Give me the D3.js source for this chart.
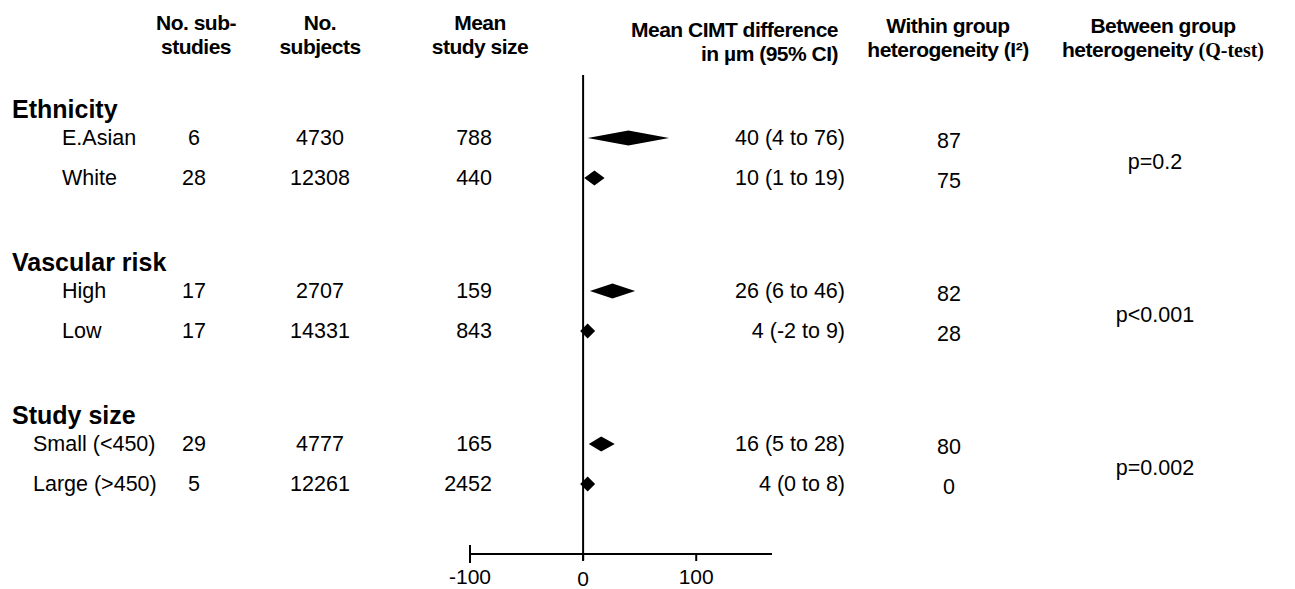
<!DOCTYPE html>
<html>
<head>
<meta charset="utf-8">
<script src="https://cdn.jsdelivr.net/npm/d3@7"></script>
<style>
  body { margin: 0; background: #fff; }
  svg { display: block; font-family: "Liberation Sans", Arial, sans-serif; }
  .hdr { font-weight: bold; font-size: 21px; letter-spacing: -0.5px; }
  .grp { font-weight: bold; font-size: 25px; }
  .cell { font-size: 21.5px; }
</style>
</head>
<body>
<div id="chart"></div>
<script>
// -------------------------------
// Data
// -------------------------------
const groups = ["Ethnicity", "Vascular risk", "Study size"];
const subgroups = ["E.Asian", "White", "High", "Low", "Small (<450)", "Large (>450)"];
const groupOf = [0, 0, 1, 1, 2, 2];
const nSubStudies = [6, 28, 17, 17, 29, 5];
const nSubjects = [4730, 12308, 2707, 14331, 4777, 12261];
const meanStudySize = [788, 440, 159, 843, 165, 2452];
const estimate = [40, 10, 26, 4, 16, 4];
const lower = [4, 1, 6, -2, 5, 0];
const upper = [76, 19, 46, 9, 28, 8];
const withinI2 = [87, 75, 82, 28, 80, 0];
const betweenP = ["p=0.2", "p<0.001", "p=0.002"];
const xTicks = [-100, 0, 100];

const width = 1295, height = 589;

const svg = d3.select("#chart").append("svg")
  .attr("width", width)
  .attr("height", height);

// scales
const x = d3.scaleLinear().domain([-100, 167]).range([470, 772]);
const yGroup = d3.scalePoint().domain(groups).range([138, 444]);
const rowStep = 40;

const rows = subgroups.map((name, i) => {
  const g = groupOf[i];
  const first = groupOf.indexOf(g);
  return {
    name, g,
    y: yGroup(groups[g]) + (i - first) * rowStep,
    nSub: nSubStudies[i], nSubj: nSubjects[i], mean: meanStudySize[i],
    est: estimate[i], lo: lower[i], hi: upper[i], i2: withinI2[i]
  };
});

// -------------------------------
// Column headers
// -------------------------------
const headers = [
  { x: 196, anchor: "middle", y: [30, 54], lines: ["No. sub-", "studies"] },
  { x: 320, anchor: "middle", y: [30, 54], lines: ["No.", "subjects"] },
  { x: 480, anchor: "middle", y: [30, 54], lines: ["Mean", "study size"] },
  { x: 838, anchor: "end", y: [37, 61], lines: ["Mean CIMT difference", "in \u00b5m (95% CI)"] },
  { x: 948, anchor: "middle", y: [33, 57], lines: ["Within group", "heterogeneity (I\u00b2)"] },
  { x: 1163, anchor: "middle", y: [33, 57], lines: ["Between group", "heterogeneity "] }
];

headers.forEach(h => {
  h.lines.forEach((line, k) => {
    const t = svg.append("text")
      .attr("class", "hdr")
      .attr("x", h.x)
      .attr("y", h.y[k])
      .attr("text-anchor", h.anchor)
      .text(line);
    if (h.x === 1163 && k === 1) {
      t.append("tspan")
        .style("font-family", "'Liberation Serif', 'Times New Roman', serif")
        .style("letter-spacing", "0px")
        .style("font-size", "20px")
        .text("(Q-test)");
    }
  });
});

// -------------------------------
// Group labels and p values
// -------------------------------
svg.selectAll(".grp")
  .data(groups)
  .enter().append("text")
    .attr("class", "grp")
    .attr("x", 12)
    .attr("y", d => yGroup(d) - 20)
    .text(d => d);

svg.selectAll(".pval")
  .data(betweenP)
  .enter().append("text")
    .attr("class", "cell")
    .attr("x", 1155)
    .attr("y", (d, i) => yGroup(groups[i]) + 31)
    .attr("text-anchor", "middle")
    .text(d => d);

// -------------------------------
// Table cells
// -------------------------------
const cols = [
  { x: d => d.g === 2 ? 33 : 62, anchor: "start", dy: 7, val: d => d.name },
  { x: () => 194, anchor: "middle", dy: 7, val: d => d.nSub },
  { x: () => 320, anchor: "middle", dy: 7, val: d => d.nSubj },
  { x: () => 492, anchor: "end", dy: 7, val: d => d.mean },
  { x: () => 845, anchor: "end", dy: 7, val: d => `${d.est} (${d.lo} to ${d.hi})` },
  { x: () => 949, anchor: "middle", dy: 10, val: d => d.i2 }
];

cols.forEach(c => {
  svg.append("g").selectAll("text")
    .data(rows)
    .enter().append("text")
      .attr("class", "cell")
      .attr("x", c.x)
      .attr("y", d => d.y + c.dy)
      .attr("text-anchor", c.anchor)
      .text(c.val);
});

// -------------------------------
// Forest plot: reference line, diamonds, axis
// -------------------------------
const axisY = 554;

svg.append("line")
  .attr("x1", x(0)).attr("x2", x(0))
  .attr("y1", 75).attr("y2", axisY + 6)
  .attr("stroke", "#000").attr("stroke-width", 2);

const half = 7.5;
svg.selectAll(".ci")
  .data(rows)
  .enter().append("path")
    .attr("class", "ci")
    .attr("d", d => {
      const l = Math.min(x(d.lo), x(d.est) - half);
      const r = Math.max(x(d.hi), x(d.est) + half);
      return `M${l},${d.y}L${x(d.est)},${d.y - half}L${r},${d.y}L${x(d.est)},${d.y + half}Z`;
    })
    .attr("fill", "#000");

const axis = svg.append("g");
axis.append("line")
  .attr("x1", x(-100)).attr("x2", x.range()[1])
  .attr("y1", axisY).attr("y2", axisY)
  .attr("stroke", "#000").attr("stroke-width", 2);

axis.selectAll(".tick")
  .data(xTicks)
  .enter().append("line")
    .attr("x1", d => x(d)).attr("x2", d => x(d))
    .attr("y1", d => d === -100 ? axisY - 9 : axisY)
    .attr("y2", d => d === -100 ? axisY + 9 : axisY + 7)
    .attr("stroke", "#000").attr("stroke-width", 2);

axis.selectAll(".tl")
  .data(xTicks)
  .enter().append("text")
    .attr("class", "cell")
    .style("font-size", "21px")
    .attr("x", d => x(d))
    .attr("y", d => d === 0 ? 586 : 584)
    .attr("text-anchor", "middle")
    .text(d => d);
</script>
</body>
</html>
